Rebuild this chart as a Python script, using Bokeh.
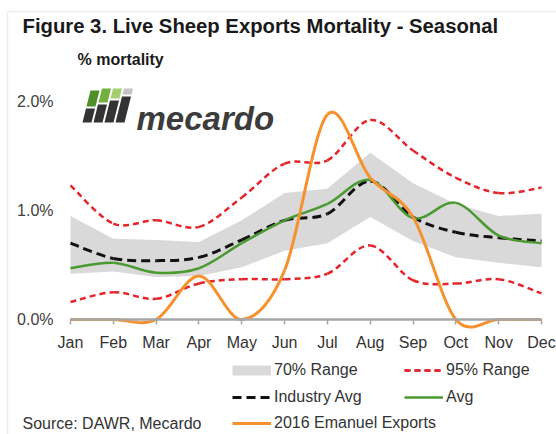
import numpy as np
from bokeh.plotting import figure
from bokeh.models import (Range1d, FixedTicker, PrintfTickFormatter, Label, Legend,
                          LegendItem, PolyAnnotation, BoxAnnotation, ColumnDataSource)
from bokeh.embed import file_html
from bokeh.resources import INLINE

months = ["Jan", "Feb", "Mar", "Apr", "May", "Jun", "Jul", "Aug", "Sep", "Oct", "Nov", "Dec"]
range70_low = [0.42, 0.44, 0.39, 0.40, 0.48, 0.63, 0.70, 0.94, 0.72, 0.57, 0.52, 0.48]
range70_high = [0.95, 0.74, 0.73, 0.71, 0.91, 1.16, 1.20, 1.53, 1.25, 1.06, 0.95, 0.97]
range95_low = [0.16, 0.25, 0.19, 0.33, 0.37, 0.37, 0.42, 0.68, 0.36, 0.33, 0.37, 0.24]
range95_high = [1.23, 0.88, 0.91, 0.85, 1.12, 1.43, 1.46, 1.83, 1.55, 1.30, 1.16, 1.21]
industry_avg = [0.70, 0.56, 0.54, 0.57, 0.73, 0.91, 0.97, 1.27, 0.94, 0.80, 0.75, 0.72]
avg = [0.47, 0.52, 0.43, 0.47, 0.70, 0.91, 1.06, 1.28, 0.93, 1.07, 0.77, 0.70]
emanuel_2016 = [0.0, 0.0, 0.0, 0.40, 0.0, 0.45, 1.88, 1.30, 0.94, 0.0, 0.0, 0.0]
y_ticks = [0, 1, 2]

FONT = "Liberation Sans"
FS = "16px"
W, H = 556, 434
mx = list(range(len(months)))

# pixel geometry of the chart area
X_JAN, X_DEC = 70.0, 541.0
Y_ZERO, PX_PER_PCT = 319.0, 109.0
px_per_month = (X_DEC - X_JAN) / 11.0


def bezier_source(vals):
    x = np.array(mx, dtype=float)
    y = np.array(vals, dtype=float)
    xp = np.concatenate([[x[0]], x, [x[-1]]])
    yp = np.concatenate([[y[0]], y, [y[-1]]])
    n = len(y)
    i = np.arange(n - 1)
    cx0 = xp[i + 1] + (xp[i + 2] - xp[i]) / 6
    cy0 = yp[i + 1] + (yp[i + 2] - yp[i]) / 6
    cx1 = xp[i + 2] - (xp[i + 3] - xp[i + 1]) / 6
    cy1 = yp[i + 2] - (yp[i + 3] - yp[i + 1]) / 6
    return ColumnDataSource(dict(x0=x[:-1], y0=y[:-1], x1=x[1:], y1=y[1:],
                                 cx0=cx0, cy0=cy0, cx1=cx1, cy1=cy1))


def smooth(p, vals, **kw):
    return p.bezier(x0="x0", y0="y0", x1="x1", y1="y1", cx0="cx0", cy0="cy0",
                    cx1="cx1", cy1="cy1", source=bezier_source(vals), **kw)


def dx(px):
    return (px - X_JAN) / px_per_month


def dy(py):
    return (Y_ZERO - py) / PX_PER_PCT


p = figure(width=W, height=H, output_backend="svg", toolbar_location=None,
           title=None, x_range=Range1d(dx(0), dx(W)), y_range=Range1d(dy(H), dy(0)),
           min_border=0, min_border_left=0, min_border_right=0,
           min_border_top=0, min_border_bottom=0)
p.outline_line_color = None
p.grid.visible = False
p.background_fill_color = "white"
p.border_fill_color = "white"

# outer frame of the figure
p.add_layout(BoxAnnotation(left=dx(7), top=dy(11), right=dx(W + 20), bottom=dy(H + 20),
                           fill_alpha=0, line_color="#c8c8c8", line_width=1.5))

band = p.varea(x=mx, y1=range70_low, y2=range70_high, fill_color="#d9d9d9")
r95a = smooth(p, range95_high, line_color="#e2262c", line_width=2.5, line_dash="6 4")
r95b = smooth(p, range95_low, line_color="#e2262c", line_width=2.5, line_dash="6 4")
rind = smooth(p, industry_avg, line_color="#111111", line_width=3, line_dash="9 5")
ravg = smooth(p, avg, line_color="#4a9a32", line_width=2.5)
rem = smooth(p, emanuel_2016, line_color="#f5922f", line_width=3)
# legend key for the 70% band (a thin grey bar, as in the original legend); draws nothing
band_key = p.line(x=[np.nan], y=[np.nan], line_color="#d9d9d9", line_width=10)

# axes
xa = p.xaxis[0]
xa.ticker = FixedTicker(ticks=mx)
xa.major_label_overrides = {i: m for i, m in enumerate(months)}
xa.fixed_location = 0
xa.bounds = (0, 11)
xa.axis_line_color = "#a6a6a6"
xa.axis_line_width = 2.5
xa.major_tick_line_color = "#a6a6a6"
xa.major_tick_line_width = 1.5
xa.major_tick_out = 5
xa.major_tick_in = 0
xa.minor_tick_line_color = None
xa.major_label_standoff = 9
xa.major_label_text_font = FONT
xa.major_label_text_font_size = FS
xa.major_label_text_color = "#333333"

ya = p.yaxis[0]
ya.ticker = FixedTicker(ticks=y_ticks)
ya.formatter = PrintfTickFormatter(format="%.1f%%")
ya.fixed_location = dx(58)
ya.axis_line_color = None
ya.major_tick_line_color = None
ya.minor_tick_line_color = None
ya.major_tick_out = 0
ya.major_tick_in = 0
ya.major_label_standoff = 5
ya.major_label_text_font = FONT
ya.major_label_text_font_size = FS
ya.major_label_text_color = "#404040"

# texts (screen units: x from left, y from bottom of the canvas)
p.add_layout(Label(x=22, y=H - 25, x_units="screen", y_units="screen",
                   text="Figure 3. Live Sheep Exports Mortality - Seasonal",
                   text_font=FONT, text_font_size="20.3px", text_font_style="bold",
                   text_color="#1a1a1a", text_baseline="middle"))
p.add_layout(Label(x=77, y=H - 59, x_units="screen", y_units="screen",
                   text="% mortality", text_font=FONT, text_font_size=FS,
                   text_font_style="bold", text_color="#1a1a1a", text_baseline="middle"))
p.add_layout(Label(x=22, y=H - 423, x_units="screen", y_units="screen",
                   text="Source: DAWR, Mecardo", text_font=FONT, text_font_size=FS,
                   text_color="#333333", text_baseline="middle"))

# logo (decoration)
bar_tops = [90, 88, 88, 88]
dark_tops = [108, 104, 100, 96]
colors = ["#4f8f2a", "#72b040", "#a3cf70", "#c4c4c4"]
slant = 0.25
for i in range(4):
    x0 = 82 + i * 11
    def sx(py, base=x0):
        return base + (122 - py) * slant
    yt, ym, yb = bar_tops[i], dark_tops[i], 122
    p.add_layout(PolyAnnotation(
        xs=[sx(ym - 2), sx(ym - 2) + 9, sx(yt) + 9, sx(yt)],
        ys=[H - (ym - 2), H - (ym - 2), H - yt, H - yt],
        xs_units="screen", ys_units="screen",
        fill_color=colors[i], fill_alpha=1, line_color=None))
    p.add_layout(PolyAnnotation(
        xs=[sx(yb), sx(yb) + 9, sx(ym) + 9, sx(ym)],
        ys=[H - yb, H - yb, H - ym, H - ym],
        xs_units="screen", ys_units="screen",
        fill_color="#333333", fill_alpha=1, line_color=None))
p.add_layout(Label(x=136, y=H - 118, x_units="screen", y_units="screen", text="mecardo",
                   text_font=FONT, text_font_size="33px", text_font_style="bold italic",
                   text_color="#3c3c3c", text_baseline="alphabetic"))

common = dict(padding=0, margin=0, spacing=7, label_height=20, glyph_height=20,
              glyph_width=39, label_standoff=3,
              label_text_font=FONT, label_text_font_size=FS, label_text_color="#333333",
              background_fill_alpha=0, border_line_color=None)
legend_a = Legend(items=[
    LegendItem(label="70% Range", renderers=[band_key]),
    LegendItem(label="95% Range", renderers=[r95a, r95b]),
    LegendItem(label="Industry Avg", renderers=[rind]),
    LegendItem(label="Avg", renderers=[ravg]),
], location=(232, 27), orientation="horizontal", ncols=2, label_width=123, **common)
legend_b = Legend(items=[
    LegendItem(label="2016 Emanuel Exports", renderers=[rem]),
], location=(232, 1), orientation="horizontal", **common)
p.add_layout(legend_a, "center")
p.add_layout(legend_b, "center")

open("out.html", "w").write(file_html(p, INLINE))
